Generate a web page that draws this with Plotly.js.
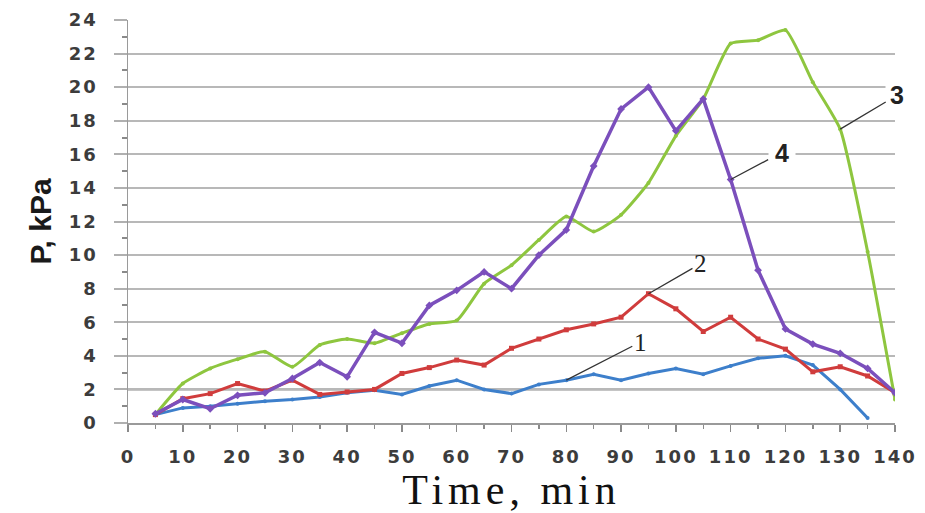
<!DOCTYPE html>
<html>
<head>
<meta charset="utf-8">
<script src="https://cdn.plot.ly/plotly-3.0.1.min.js"></script>
<style>
  html, body { margin: 0; padding: 0; background: #fff; }
  #chart { width: 925px; height: 513px; }
  .xtick text, .ytick text { letter-spacing: 2px; }
  .g-xtitle text { letter-spacing: 5px; }
</style>
</head>
<body>
<div id="chart"></div>
<script>
// Time, min
const time = [5, 10, 15, 20, 25, 30, 35, 40, 45, 50, 55, 60, 65, 70, 75, 80, 85, 90, 95, 100, 105, 110, 115, 120, 125, 130, 135, 140];
// Curve 1 (blue) – ends at 135 min
const p1 = [0.5, 0.9, 1.0, 1.15, 1.3, 1.4, 1.55, 1.8, 1.95, 1.7, 2.2, 2.55, 2.0, 1.75, 2.3, 2.55, 2.9, 2.55, 2.95, 3.25, 2.9, 3.4, 3.85, 4.0, 3.45, 2.0, 0.3];
// Curve 2 (red)
const p2 = [0.5, 1.45, 1.75, 2.35, 1.9, 2.55, 1.7, 1.85, 2.0, 2.95, 3.3, 3.75, 3.45, 4.45, 5.0, 5.55, 5.9, 6.3, 7.7, 6.8, 5.45, 6.3, 5.0, 4.4, 3.05, 3.35, 2.8, 1.8];
// Curve 3 (green)
const p3 = [0.5, 2.35, 3.25, 3.8, 4.25, 3.35, 4.65, 5.0, 4.75, 5.35, 5.9, 6.1, 8.3, 9.4, 10.9, 12.3, 11.4, 12.4, 14.3, 17.1, 19.3, 22.6, 22.8, 23.4, 20.3, 17.5, 10.2, 1.4];
// Curve 4 (purple)
const p4 = [0.55, 1.4, 0.85, 1.65, 1.8, 2.65, 3.6, 2.75, 5.4, 4.75, 7.0, 7.9, 9.0, 8.0, 10.0, 11.5, 15.3, 18.7, 20.0, 17.4, 19.3, 14.5, 9.1, 5.6, 4.7, 4.15, 3.25, 1.8];

const curveLabels = ['1', '2', '3', '4'];
const xTickVals = [0, 10, 20, 30, 40, 50, 60, 70, 80, 90, 100, 110, 120, 130, 140];
const yTickVals = [0, 2, 4, 6, 8, 10, 12, 14, 16, 18, 20, 22, 24];

const colors = ['#3d7fcb', '#d03c3c', '#8ec63f', '#7b4fbc'];

const traces = [
  {x: time.slice(0, p1.length), y: p1, mode: 'lines+markers', line: {color: colors[0], width: 3}, marker: {size: 4, color: colors[0]}},
  {x: time, y: p2, mode: 'lines+markers', line: {color: colors[1], width: 3}, marker: {size: 5, symbol: 'square', color: colors[1]}},
  {x: time, y: p3, mode: 'lines+markers', line: {color: colors[2], width: 3, shape: 'spline', smoothing: 0.5}, marker: {size: 4, color: colors[2]}},
  {x: time, y: p4, mode: 'lines+markers', line: {color: colors[3], width: 3.5}, marker: {size: 6, symbol: 'diamond', color: colors[3]}}
].map(t => Object.assign(t, {showlegend: false, hoverinfo: 'skip'}));

function idx(t) { return time.indexOf(t); }

const annFontSerif = {family: 'Liberation Serif, serif', size: 25, color: '#222'};
const annFontSans = {family: 'Liberation Sans, Arial, sans-serif', size: 25, color: '#222', weight: 'bold'};
const annBase = {showarrow: true, arrowhead: 0, arrowwidth: 1.3, arrowcolor: '#333', xref: 'x', yref: 'y', standoff: 0};

const annotations = [
  Object.assign({}, annBase, {x: 80, y: p1[idx(80)], ax: 74, ay: -38, text: curveLabels[0], font: annFontSerif}),
  Object.assign({}, annBase, {x: 95, y: p2[idx(95)], ax: 52, ay: -30, text: curveLabels[1], font: annFontSerif}),
  Object.assign({}, annBase, {x: 130, y: p3[idx(130)], ax: 57, ay: -34, text: curveLabels[2], font: annFontSans, bgcolor: '#fff', borderpad: 4}),
  Object.assign({}, annBase, {x: 110, y: p4[idx(110)], ax: 51, ay: -27, text: curveLabels[3], font: annFontSans, bgcolor: '#fff', borderpad: 6})
];

const tickFont = {family: 'DejaVu Sans, Verdana, sans-serif', size: 18, color: '#3c3c3c', weight: 'bold'};

const layout = {
  width: 925, height: 513,
  margin: {l: 128, r: 30, t: 20, b: 90},
  paper_bgcolor: '#fff', plot_bgcolor: '#fff',
  font: {family: 'DejaVu Sans, sans-serif'},
  xaxis: {
    range: [0, 140], tickvals: xTickVals, ticktext: xTickVals.map(String), tickangle: 0,
    showgrid: false, zeroline: false,
    showline: true, linecolor: '#9a9a9a', linewidth: 2,
    ticks: 'outside', ticklen: 7, tickcolor: '#8a8a8a', tickwidth: 1.5,
    minor: {dtick: 5, ticks: 'outside', ticklen: 4, tickcolor: '#8a8a8a', showgrid: false},
    tickfont: tickFont, ticklabelstandoff: 9,
    title: {text: 'Time, min', font: {family: 'Liberation Serif, Times New Roman, serif', size: 42, color: '#111'}, standoff: 6}
  },
  yaxis: {
    range: [0, 24], tickvals: yTickVals, ticktext: yTickVals.map(String),
    showgrid: true, gridcolor: '#b8b8b8', gridwidth: 2, zeroline: false,
    showline: true, linecolor: '#9a9a9a', linewidth: 1.5,
    ticks: 'outside', ticklen: 13, tickcolor: '#b0b0b0', tickwidth: 2,
    minor: {dtick: 1, ticks: 'outside', ticklen: 5, tickcolor: '#8a8a8a', showgrid: false},
    tickfont: tickFont, ticklabelstandoff: 12,
    title: {text: 'P, kPa', font: {family: 'Liberation Sans, Arial, sans-serif', size: 30, color: '#1a1a1a', weight: 'bold'}, standoff: 8}
  },
  shapes: [
    {type: 'line', xref: 'paper', yref: 'y', x0: 0, x1: 1, y0: 2, y1: 2, line: {color: '#8c8c8c', width: 2}, layer: 'below'}
  ],
  annotations: annotations
};

Plotly.newPlot('chart', traces, layout, {displayModeBar: false, staticPlot: true});
</script>
</body>
</html>
